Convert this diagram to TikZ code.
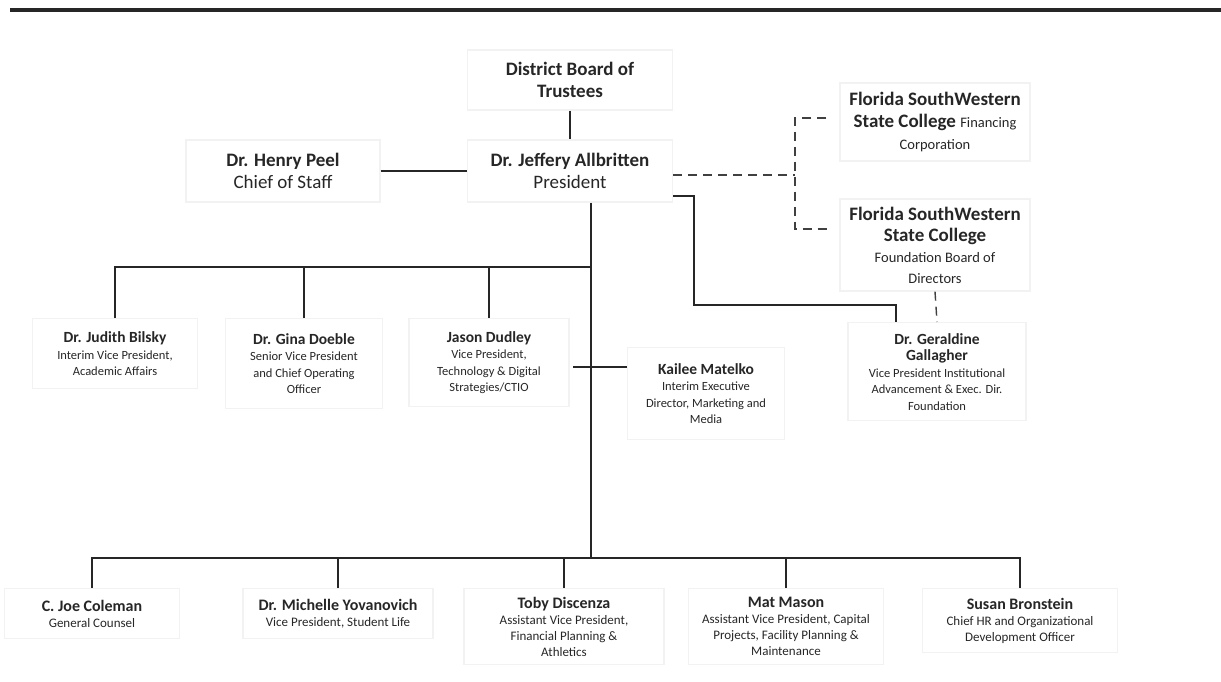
\documentclass[tikz,border=0pt]{standalone}
\usepackage{fontspec}
\setmainfont{Carlito}
\usetikzlibrary{calc}

\newcommand{\topname}{\fontsize{19}{22}\selectfont\bfseries}
\newcommand{\toprole}{\fontsize{19}{22}\selectfont}
\newcommand{\smallrole}{\fontsize{14.5}{21}\selectfont}
\newcommand{\midname}{\fontsize{15.5}{17}\selectfont\bfseries}
\newcommand{\midrole}{\fontsize{12.5}{16}\selectfont}
\newcommand{\lowname}{\fontsize{16}{17}\selectfont\bfseries}
\newcommand{\lowrole}{\fontsize{13}{16}\selectfont}

\begin{document}
\begin{tikzpicture}[x=1pt, y=-1pt,
  unit/.style={draw=black!5, line width=1.2pt, align=center, inner sep=3pt, text=black!85},
  topunit/.style={unit, font=\fontsize{19}{22}\selectfont},
  midunit/.style={unit, anchor=north, font=\fontsize{12.5}{16.5}\selectfont},
  lowunit/.style={unit, anchor=north, font=\fontsize{13}{16}\selectfont},
  conn/.style={draw=black!85, line width=1.6pt},
  dashline/.style={draw=black!75, line width=1.4pt, dash pattern=on 9pt off 6pt}]
\useasboundingbox (0,0) rectangle (1221,681);
\draw [line width=4pt, black!85] (10,10) -- (1221,10);

% top level
\node [topunit, minimum width=205, minimum height=60] (board) at (570,80) {\topname District Board of\\\topname Trustees};
\node [topunit, minimum width=205, minimum height=62] (pres) at (570,171) {\topname Dr. Jeffery Allbritten\\\toprole President};
\node [topunit, minimum width=194, minimum height=62] (peel) at (283,171) {\topname Dr. Henry Peel\\\toprole Chief of Staff};
\node [topunit, minimum width=190, minimum height=78] (fin) at (935,122) {\topname Florida SouthWestern\\\topname State College \smallrole\mdseries Financing\\\smallrole Corporation};
\node [topunit, font=\fontsize{19}{21}\selectfont, minimum width=190, minimum height=92] (found) at (935,245) {\topname Florida SouthWestern\\\topname State College\\\smallrole Foundation Board of\\\smallrole Directors};

% middle row
\node [midunit, minimum width=165, minimum height=70] (judith) at (115,318) {\midname Dr. Judith Bilsky\\\midrole Interim Vice President,\\\midrole Academic Affairs};
\node [midunit, minimum width=157, minimum height=90] (gina) at (304,318) {\midname Dr. Gina Doeble\\\midrole Senior Vice President\\\midrole and Chief Operating\\\midrole Officer};
\node [midunit, minimum width=160, minimum height=88] (jason) at (489,318) {\midname Jason Dudley\\\midrole Vice President,\\\midrole Technology \& Digital\\\midrole Strategies/CTIO};
\node [midunit, minimum width=157, minimum height=92] (kailee) at (706,347) {\midname Kailee Matelko\\\midrole Interim Executive\\\midrole Director, Marketing and\\\midrole Media};
\node [midunit, minimum width=178, minimum height=98] (gall) at (937,322) {\midname Dr. Geraldine\\\midname Gallagher\\\midrole Vice President Institutional\\\midrole Advancement \& Exec. Dir.\\\midrole Foundation};

% bottom row
\node [lowunit, minimum width=175, minimum height=50] (coleman) at (92,588) {\lowname C. Joe Coleman\\\lowrole General Counsel};
\node [lowunit, minimum width=190, minimum height=50] (yovan) at (338,588) {\lowname Dr. Michelle Yovanovich\\\lowrole Vice President, Student Life};
\node [lowunit, minimum width=200, minimum height=76] (toby) at (564,588) {\lowname Toby Discenza\\\lowrole Assistant Vice President,\\\lowrole Financial Planning \&\\\lowrole Athletics};
\node [lowunit, minimum width=195, minimum height=76] (mason) at (786,588) {\lowname Mat Mason\\\lowrole Assistant Vice President, Capital\\\lowrole Projects, Facility Planning \&\\\lowrole Maintenance};
\node [lowunit, minimum width=195, minimum height=64] (bron) at (1020,588) {\lowname Susan Bronstein\\\lowrole Chief HR and Organizational\\\lowrole Development Officer};

\coordinate (midbus) at (591,267);
\coordinate (lowbus) at (591,558);
\coordinate (kjoin) at (573,367);
\coordinate (fork) at (795,175);

% connectors
\draw [conn] (board) -- (pres);
\draw [conn] (peel.east) -- (pres.west);
\draw [conn] ([xshift=21pt]pres.south) -- (lowbus);
\draw [conn] (judith.north) |- (midbus);
\draw [conn] (gina.north) -- (gina.north |- midbus);
\draw [conn] (jason.north) -- (jason.north |- midbus);
\draw [conn] (kjoin) -- (kjoin -| kailee.west);
\draw [conn] ([yshift=-25pt]pres.east) -- ++(21,0) -- ++(0,109) -| ([xshift=-41pt]gall.north);
\draw [conn] (coleman.north) |- (lowbus) -| (bron.north);
\draw [conn] (yovan.north) -- (yovan.north |- lowbus);
\draw [conn] (toby.north) -- (toby.north |- lowbus);
\draw [conn] (mason.north) -- (mason.north |- lowbus);
\draw [dashline] ([yshift=-4pt]pres.east) -- (fork);
\draw [dashline] ([xshift=-13pt, yshift=4pt]fin.west) -| ([yshift=16pt]fork |- found.west) -- ([xshift=-10pt, yshift=16pt]found.west);
\draw [dashline] (found.south) -- (gall.north);
\end{tikzpicture}
\end{document}
